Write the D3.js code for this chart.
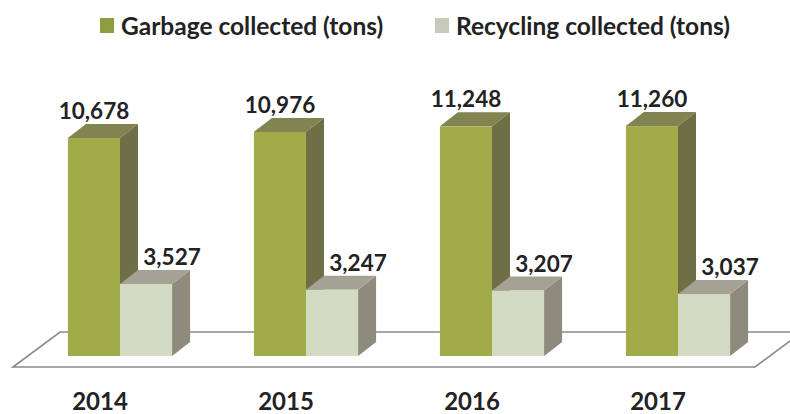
<!DOCTYPE html>
<html>
<head>
<meta charset="utf-8">
<script src="https://cdn.jsdelivr.net/npm/d3@7"></script>
<style>
  html, body { margin: 0; padding: 0; background: #fff; }
  svg { display: block; }
  text { font-family: Lato, "Open Sans", sans-serif; fill: #222; }
</style>
</head>
<body>
<svg id="chart" width="790" height="414"></svg>
<script>
// Annual collection totals, in tons
const years = ["2014", "2015", "2016", "2017"];
const seriesNames = ["Garbage collected (tons)", "Recycling collected (tons)"];
const garbage = [10678, 10976, 11248, 11260];
const recycling = [3527, 3247, 3207, 3037];

// Face colours for each series: front, side, top
const faceColors = [
  { front: "#a1ab48", side: "#6d7046", top: "#7f8451", legend: "#8d9c3e" },
  { front: "#d4dbc5", side: "#8f8b7c", top: "#a5a193", legend: "#c6cabb" }
];

const svg = d3.select("#chart");

// Oblique depth offset for the 3D look
const depth = { dx: 18, dy: -14 };
const floorDepth = { dx: 47, dy: -35 };

const x = d3.scaleBand().domain(years).range([27, 771])
  .paddingInner(0.44).paddingOuter(0.22);
const xs = d3.scaleBand().domain(d3.range(seriesNames.length))
  .range([0, x.bandwidth()]).padding(0);
const y = d3.scaleLinear().domain([0, 12000]).range([356, 111]);

const baseY = y(0);

// Floor plane
const floorFrontY = baseY + 11;
const fl = 13, fr = 755;
svg.append("path")
  .attr("d", `M${fl},${floorFrontY} L${fr},${floorFrontY} L${fr + floorDepth.dx},${floorFrontY + floorDepth.dy} L${fl + floorDepth.dx},${floorFrontY + floorDepth.dy} Z`)
  .attr("fill", "#fff")
  .attr("stroke", "#8a8a8a")
  .attr("stroke-width", 1.6);

const data = years.map((yr, i) => ({ year: yr, values: [garbage[i], recycling[i]] }));

const groups = svg.append("g").selectAll("g").data(data).join("g")
  .attr("transform", d => `translate(${x(d.year)},0)`);

function drawBar(g, si, v) {
  const x0 = xs(si), w = xs.bandwidth();
  const x1 = x0 + w, top = y(v), bot = baseY;
  const c = faceColors[si];
  // side
  g.append("path")
    .attr("d", `M${x1},${bot} L${x1 + depth.dx},${bot + depth.dy} L${x1 + depth.dx},${top + depth.dy} L${x1},${top} Z`)
    .attr("fill", c.side);
  // top
  g.append("path")
    .attr("d", `M${x0},${top} L${x0 + depth.dx},${top + depth.dy} L${x1 + depth.dx},${top + depth.dy} L${x1},${top} Z`)
    .attr("fill", c.top);
  // front
  g.append("rect")
    .attr("x", x0).attr("y", top).attr("width", w).attr("height", bot - top)
    .attr("fill", c.front);
  // value label
  const offset = si === 0 ? 0 : 26;
  g.append("text")
    .attr("x", x0 + w / 2 + offset)
    .attr("y", top - 19)
    .attr("text-anchor", "middle")
    .attr("font-size", 22.5)
    .attr("font-weight", 700)
    .text(d3.format(",")(v));
}

groups.each(function (d) {
  const g = d3.select(this);
  d.values.forEach((v, si) => drawBar(g, si, v));
});

// Category labels along the front of the floor
svg.append("g").selectAll("text").data(years).join("text")
  .attr("x", d => x(d) + x.bandwidth() / 2 - 20)
  .attr("y", 410)
  .attr("text-anchor", "middle")
  .attr("font-size", 24)
  .attr("font-weight", 700)
  .text(d => d);

// Legend
const legendX = [100, 435];
const legend = svg.append("g").selectAll("g").data(seriesNames).join("g")
  .attr("transform", (d, i) => `translate(${legendX[i]},0)`);
legend.append("rect")
  .attr("x", 0).attr("y", 18).attr("width", 14).attr("height", 15)
  .attr("fill", (d, i) => faceColors[i].legend);
legend.append("text")
  .attr("x", 21).attr("y", 35)
  .attr("font-size", 24.5)
  .attr("font-weight", 700)
  .text(d => d);
</script>
</body>
</html>
